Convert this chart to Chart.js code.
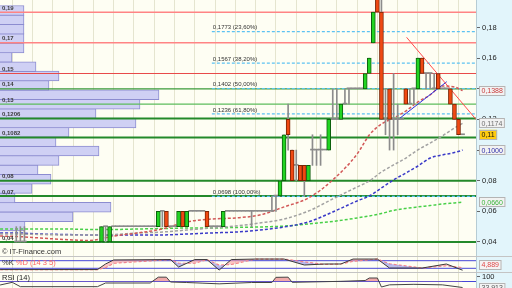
<!DOCTYPE html>
<html>
<head>
<meta charset="utf-8">
<script src="https://cdn.jsdelivr.net/npm/chart.js@4.4.1/dist/chart.umd.min.js"></script>
<style>
  html, body { margin: 0; padding: 0; background: #c4c4c4; }
  #wrap { position: relative; width: 512px; height: 288px; overflow: hidden; }
  canvas { position: absolute; left: 0; }
</style>
</head>
<body>
<div id="wrap">
  <canvas id="main" width="512" height="256" style="top:0"></canvas>
  <canvas id="stoch" width="512" height="15" style="top:257px"></canvas>
  <canvas id="rsi" width="512" height="15" style="top:273px"></canvas>
</div>
<script>
// Daily candles (trading day index, OHLC)
const days = [0, 1, 2,
  21, 22, 23, 24, 25, 26, 27, 28, 29, 30,
  31, 32, 33, 34, 35, 36, 37, 38, 39, 40,
  41, 42, 43, 44, 45, 46, 47, 48, 49, 50,
  51, 52, 53, 54, 55, 56, 57, 58, 59, 60,
  61, 62, 63, 64, 65, 66, 67, 68, 69, 70,
  71, 72, 73, 74, 75, 76, 77, 78, 79, 80,
  81, 82, 83, 84, 85, 86, 87, 88, 89, 90,
  91, 92, 93, 94, 95, 96, 97, 98, 99, 100,
  101, 102, 103, 104, 105, 106, 107, 108, 109, 110];
const opens = [0.04, 0.04, 0.04,
  0.04, 0.05, 0.04, 0.05, 0.05, 0.05, 0.05, 0.05, 0.05, 0.05,
  0.05, 0.05, 0.05, 0.05, 0.05, 0.06, 0.06, 0.05, 0.05, 0.05,
  0.06, 0.05, 0.06, 0.06, 0.06, 0.06, 0.06, 0.05, 0.05, 0.05,
  0.05, 0.06, 0.06, 0.06, 0.06, 0.06, 0.06, 0.06, 0.06, 0.06,
  0.06, 0.06, 0.06, 0.07, 0.07, 0.08, 0.12, 0.10, 0.09, 0.09,
  0.09, 0.08, 0.10, 0.10, 0.10, 0.10, 0.10, 0.12, 0.12, 0.12,
  0.13, 0.14, 0.14, 0.14, 0.14, 0.14, 0.15, 0.17, 0.20, 0.19,
  0.12, 0.14, 0.12, 0.12, 0.12, 0.14, 0.13, 0.14, 0.14, 0.16,
  0.15, 0.15, 0.14, 0.15, 0.14, 0.14, 0.14, 0.13, 0.12, 0.11];
const highs = [0.05, 0.05, 0.05,
  0.05, 0.05, 0.05, 0.05, 0.05, 0.05, 0.05, 0.05, 0.05, 0.05,
  0.05, 0.05, 0.05, 0.05, 0.06, 0.06, 0.06, 0.05, 0.05, 0.06,
  0.06, 0.06, 0.06, 0.06, 0.06, 0.06, 0.06, 0.05, 0.05, 0.05,
  0.06, 0.06, 0.06, 0.06, 0.06, 0.06, 0.06, 0.06, 0.06, 0.06,
  0.06, 0.06, 0.07, 0.07, 0.08, 0.11, 0.13, 0.10, 0.10, 0.09,
  0.09, 0.09, 0.11, 0.10, 0.11, 0.10, 0.12, 0.14, 0.14, 0.13,
  0.14, 0.14, 0.14, 0.14, 0.14, 0.15, 0.16, 0.19, 0.21, 0.20,
  0.14, 0.14, 0.15, 0.13, 0.12, 0.14, 0.14, 0.14, 0.16, 0.16,
  0.15, 0.15, 0.15, 0.15, 0.14, 0.14, 0.14, 0.13, 0.12, 0.11];
const lows = [0.04, 0.04, 0.04,
  0.04, 0.04, 0.04, 0.05, 0.05, 0.05, 0.05, 0.05, 0.05, 0.05,
  0.05, 0.05, 0.05, 0.05, 0.05, 0.05, 0.05, 0.05, 0.05, 0.05,
  0.05, 0.05, 0.06, 0.06, 0.06, 0.06, 0.05, 0.05, 0.05, 0.05,
  0.05, 0.06, 0.06, 0.06, 0.06, 0.06, 0.06, 0.05, 0.06, 0.06,
  0.06, 0.06, 0.06, 0.06, 0.07, 0.08, 0.10, 0.08, 0.08, 0.08,
  0.07, 0.08, 0.09, 0.09, 0.09, 0.10, 0.10, 0.12, 0.12, 0.12,
  0.13, 0.13, 0.14, 0.14, 0.14, 0.14, 0.15, 0.17, 0.19, 0.12,
  0.11, 0.10, 0.10, 0.11, 0.12, 0.13, 0.13, 0.13, 0.14, 0.15,
  0.14, 0.14, 0.14, 0.14, 0.14, 0.14, 0.13, 0.12, 0.11, 0.11];
const closes = [0.04, 0.04, 0.04,
  0.05, 0.05, 0.05, 0.05, 0.05, 0.05, 0.05, 0.05, 0.05, 0.05,
  0.05, 0.05, 0.05, 0.05, 0.06, 0.06, 0.05, 0.05, 0.05, 0.06,
  0.05, 0.06, 0.06, 0.06, 0.06, 0.06, 0.05, 0.05, 0.05, 0.05,
  0.06, 0.06, 0.06, 0.06, 0.06, 0.06, 0.06, 0.06, 0.06, 0.06,
  0.06, 0.06, 0.06, 0.07, 0.08, 0.11, 0.11, 0.08, 0.09, 0.08,
  0.08, 0.09, 0.10, 0.10, 0.10, 0.10, 0.12, 0.12, 0.12, 0.13,
  0.13, 0.14, 0.14, 0.14, 0.14, 0.15, 0.16, 0.19, 0.19, 0.12,
  0.12, 0.12, 0.12, 0.12, 0.12, 0.13, 0.13, 0.14, 0.16, 0.15,
  0.15, 0.15, 0.14, 0.14, 0.14, 0.14, 0.13, 0.12, 0.11, 0.11];

// Moving averages, read at sample days
const maDays  = [-4, 0, 6, 12, 18, 24, 30, 36, 42, 48, 54, 60, 66, 72, 78, 84, 87, 90, 93, 96, 99, 102, 105, 108, 110];
const maRed   = [0.0439, 0.0436, 0.0426, 0.0416, 0.0410, 0.0439, 0.0459, 0.0485, 0.0531, 0.0550, 0.0557, 0.0576, 0.0629, 0.0687, 0.0805, 0.0974, 0.1098, 0.1170, 0.1209, 0.1255, 0.1314, 0.1360, 0.1418, 0.1412, 0.1388];
const maGray  = [0.0452, 0.0452, 0.0449, 0.0446, 0.0446, 0.0449, 0.0459, 0.0465, 0.0478, 0.0491, 0.0504, 0.0524, 0.0550, 0.0602, 0.0681, 0.0759, 0.0798, 0.0857, 0.0903, 0.0948, 0.1001, 0.1046, 0.1092, 0.1144, 0.1174];
const maBlue  = [0.0459, 0.0459, 0.0452, 0.0449, 0.0446, 0.0446, 0.0446, 0.0446, 0.0452, 0.0459, 0.0465, 0.0478, 0.0498, 0.0531, 0.0596, 0.0668, 0.0700, 0.0753, 0.0805, 0.0850, 0.0896, 0.0948, 0.0968, 0.0984, 0.1000];
const maGreen = [0.0485, 0.0485, 0.0485, 0.0485, 0.0482, 0.0482, 0.0485, 0.0488, 0.0491, 0.0491, 0.0495, 0.0498, 0.0504, 0.0518, 0.0534, 0.0557, 0.0570, 0.0586, 0.0606, 0.0619, 0.0629, 0.0638, 0.0648, 0.0655, 0.0660];

// Support / resistance levels
const levels = [0.19, 0.17, 0.15, 0.14, 0.13, 0.1206, 0.1082, 0.08, 0.07, 0.04];
const levelColors = ['#ff8484', '#ff8484', '#e84a4a', '#3a9a3a', '#5cbc5c', '#23892a', '#23892a', '#23892a', '#23892a', '#23892a'];
const levelWidths = [1.5, 1.5, 1.2, 1.2, 1.2, 2, 2, 2, 2, 2];

// Fibonacci retracement
const fibStartDay = 48.2;
const fibLevels = [0.1773, 0.1567, 0.1402, 0.1236, 0.0698];
const fibPcts = [23.6, 38.2, 50, 61.8, 100];

// Trend lines (day, price)
const resistDays = [96.2, 113.3];
const resistPrices = [0.1736, 0.1201];
const supportDays = [94.2, 106.1];
const supportPrices = [0.1201, 0.1446];

// Volume-at-price profile
const profilePrices = [0.0433, 0.0501, 0.0569, 0.0637, 0.0705, 0.0773, 0.0841, 0.0909, 0.0977, 0.1045, 0.1113, 0.1181,
                       0.1249, 0.1317, 0.1385, 0.1453, 0.1521, 0.1589, 0.1657, 0.1725, 0.1793, 0.1861, 0.1929, 0.1997];
const profileVolumes = [25, 73, 111, 15, 32, 51, 38, 59, 99, 56, 69, 136, 96, 140, 159, 49, 59, 36, 12, 24, 24, 24, 24, 24];

const priceTicks = [0.04, 0.06, 0.08, 0.10, 0.12, 0.14, 0.16, 0.18];
const gridDays = [-1, 4, 9, 14, 19, 24, 29, 34, 39, 44, 49, 54, 59, 64, 69, 74, 79, 84, 89, 94, 99, 104, 109];

// Stochastic %K %D (14 3 5)
const stochDays = [-4, 20, 22, 24, 38, 40, 44, 47, 50, 53, 59, 66, 71, 76, 80, 83, 89, 92, 100, 106, 110];
const stochK    = [10, 10, 54, 86, 89, 30, 89, 89, 6, 89, 93, 93, 46, 54, 54, 93, 93, 22, 22, 54, 4.889];
const stochD    = [10, 10, 25, 60, 89, 60, 60, 89, 45, 50, 93, 93, 70, 50, 54, 75, 93, 55, 22, 40, 25];
const stochLevels = [80, 20];

// RSI (14)
const rsiDays = [-4, -1, 1, 20, 22, 33, 35, 37, 38, 42, 46, 50, 54, 58, 63, 64, 67, 68, 74, 80, 86, 87, 89, 90, 92, 98, 105, 110];
const rsiVals = [49, 65, 39, 39, 61, 61, 96, 96, 67, 64, 60, 56, 60, 64, 64, 95, 96, 65, 68, 71, 76, 91, 91, 37, 50, 53, 50, 33.913];
const rsiLevel = 70;

const X_MIN = -4.02, X_MAX = 113.31;
const Y_MIN = 0.03086, Y_MAX = 0.19796;
const MAIN_H = 256;
const FONT = '"Liberation Sans", Arial, sans-serif';
Chart.defaults.font.family = FONT;

const fmt = (v, d) => v.toFixed(d).replace('.', ',');
const pts = (xs, ys) => xs.map((x, i) => ({ x, y: ys[i] }));

// split candles into wick / up / down / flat bars
const wickData = [], upData = [], downData = [], flatData = [];
days.forEach((d, i) => {
  const o = opens[i], h = highs[i], l = lows[i], c = closes[i];
  if (h > l) wickData.push({ x: d, y: [l, h] });
  if (c > o) upData.push({ x: d, y: [o, c] });
  else if (c < o) downData.push({ x: d, y: [c, o] });
  else flatData.push({ x: d, y: [o, o] });
});

// one profile bin in pixels
const binPx = MAIN_H / (Y_MAX - Y_MIN) * (profilePrices[1] - profilePrices[0]);

const panelBg = {
  id: 'panelBg',
  beforeDraw(chart) {
    const { ctx, chartArea: a, width, height } = chart;
    ctx.save();
    ctx.fillStyle = '#e2f5fb';
    ctx.fillRect(0, 0, width, height);
    ctx.fillStyle = '#fefef3';
    ctx.fillRect(a.left, a.top, a.right - a.left, a.bottom - a.top);
    ctx.restore();
  }
};

function valueBox(chart, value, text, fg, bg, clamp) {
  const { ctx, chartArea: a } = chart;
  let y = chart.scales.y.getPixelForValue(value);
  if (clamp) y = Math.min(Math.max(y, a.top + 5), a.bottom - 7);
  ctx.save();
  ctx.font = '7px ' + FONT;
  const w = ctx.measureText(text).width + 5;
  const x = a.right + 3;
  ctx.fillStyle = bg;
  ctx.fillRect(x, y - 5, w, 10);
  ctx.strokeStyle = '#b4b4b4';
  ctx.lineWidth = 1;
  ctx.strokeRect(x + 0.5, Math.round(y - 5) + 0.5, w - 1, 9);
  ctx.fillStyle = fg;
  ctx.textBaseline = 'middle';
  ctx.fillText(text, x + 2.5, y + 0.5);
  ctx.restore();
}

const mainLabels = {
  id: 'mainLabels',
  afterDatasetsDraw(chart) {
    const { ctx, chartArea: a, scales } = chart;
    ctx.save();
    ctx.textBaseline = 'bottom';
    ctx.font = 'bold 6px ' + FONT;
    ctx.fillStyle = '#3c3c3c';
    levels.forEach(v => ctx.fillText(String(v).replace('.', ','), 2, scales.y.getPixelForValue(v) - 1));
    ctx.font = '6px ' + FONT;
    ctx.fillStyle = '#333';
    const fx = scales.x.getPixelForValue(fibStartDay) + 1;
    fibLevels.forEach((v, i) => ctx.fillText(fmt(v, 4) + ' (' + fmt(fibPcts[i], 2) + '%)', fx, scales.y.getPixelForValue(v) - 1));
    ctx.font = '7.5px ' + FONT;
    ctx.fillStyle = '#333';
    ctx.textBaseline = 'middle';
    ctx.fillText('\u00a9 IT-Finance.com', 2, a.bottom - 4);
    ctx.restore();
  },
  afterDraw(chart) {
    const last = a => a[a.length - 1];
    valueBox(chart, last(maRed), fmt(last(maRed), 4), '#c83c3c', '#f2f2f2');
    valueBox(chart, last(maGray), fmt(last(maGray), 4), '#707070', '#f2f2f2');
    valueBox(chart, last(closes), fmt(last(closes), 2), '#111', '#ffcc11');
    valueBox(chart, last(maBlue), fmt(last(maBlue), 4), '#3030a8', '#f2f2f2');
    valueBox(chart, last(maGreen), fmt(last(maGreen), 4), '#3cb43c', '#f2f2f2');
  }
};

const xScale = {
  type: 'linear', min: X_MIN, max: X_MAX, offset: false,
  ticks: { display: false },
  grid: { color: 'rgba(200,200,165,0.45)', drawTicks: false, offset: false },
  border: { display: false },
  afterBuildTicks: s => { s.ticks = gridDays.map(v => ({ value: v })); }
};

function rightAxis(min, max, ticks, fmtTick) {
  return {
    position: 'right', min, max, beginAtZero: false,
    grid: { drawOnChartArea: false, drawTicks: true, tickLength: 4, color: '#666' },
    border: { color: '#b6ccd4' },
    ticks: { display: !!ticks, padding: 2, color: '#222', font: { size: 7.5 }, callback: fmtTick },
    afterBuildTicks: s => { s.ticks = (ticks || []).map(v => ({ value: v })); },
    afterFit: s => { s.width = 36; s.paddingTop = 0; s.paddingBottom = 0; }
  };
}

const line = (data, color, width, dash, order) => ({
  type: 'line', data, borderColor: color, borderWidth: width, borderDash: dash || [],
  pointRadius: 0, fill: false, order, cubicInterpolationMode: 'monotone'
});

const datasets = [
  { type: 'bar', data: upData, backgroundColor: '#22d422', borderColor: '#0d5e0d', borderWidth: 1,
    borderSkipped: false, barThickness: 4, grouped: false, order: 1 },
  { type: 'bar', data: downData, backgroundColor: '#f04812', borderColor: '#7c2404', borderWidth: 1,
    borderSkipped: false, barThickness: 4, grouped: false, order: 1 },
  { type: 'bar', data: flatData, backgroundColor: '#8a8a8a', borderWidth: 0,
    minBarLength: 1, barThickness: 4, grouped: false, order: 2 },
  { type: 'bar', data: wickData, backgroundColor: '#8c8c8c', borderWidth: 0,
    barThickness: 1, grouped: false, order: 3 },
  line(pts(resistDays, resistPrices), '#ff4c4c', 1, null, 4),
  line(pts(supportDays, supportPrices), '#2e2ee0', 1, null, 4),
  line(pts(maDays, maRed), '#d25858', 1.5, [3, 2], 5),
  line(pts(maDays, maGray), '#a2a2a2', 1.5, [3, 2], 5),
  line(pts(maDays, maBlue), '#3a3ac8', 1.5, [3, 2], 5),
  line(pts(maDays, maGreen), '#48d048', 1.5, [3, 2], 5),
  ...fibLevels.map(v => line([{ x: fibStartDay, y: v }, { x: X_MAX, y: v }], '#5cc2f2', 1.2, [3, 2], 6)),
  ...levels.map((v, i) => line([{ x: X_MIN, y: v }, { x: X_MAX, y: v }], levelColors[i], levelWidths[i], null, 7)),
  { type: 'bar', indexAxis: 'y', xAxisID: 'xv', yAxisID: 'yv',
    data: profilePrices.map((p, i) => ({ x: profileVolumes[i], y: p })),
    backgroundColor: '#cfd0f4', borderColor: '#8c8cd0', borderWidth: 1, borderSkipped: 'start',
    barThickness: binPx - 0.6, grouped: false, order: 10 }
];

const common = {
  responsive: false, animation: false, events: [],
  layout: { padding: 0 },
  plugins: { legend: { display: false }, tooltip: { enabled: false } }
};

new Chart(document.getElementById('main'), {
  type: 'bar',
  data: { datasets },
  options: {
    ...common,
    scales: {
      x: xScale,
      y: rightAxis(Y_MIN, Y_MAX, priceTicks, v => fmt(v, 2)),
      xv: { type: 'linear', axis: 'x', display: false, min: 0, max: 476, offset: false },
      yv: { type: 'linear', axis: 'y', display: false, min: Y_MIN, max: Y_MAX, beginAtZero: false }
    }
  },
  plugins: [panelBg, mainLabels]
});

// Stochastic panel
new Chart(document.getElementById('stoch'), {
  type: 'line',
  data: {
    datasets: [
      { data: pts(stochDays, stochK), borderColor: '#3a3a3a', borderWidth: 1, pointRadius: 0,
        fill: { target: 1, above: 'rgba(250,160,160,0.6)', below: 'rgba(150,150,232,0.65)' }, order: 1 },
      { data: pts(stochDays, stochD), borderColor: '#ff7a7a', borderWidth: 1.2, borderDash: [3, 2],
        pointRadius: 0, fill: false, order: 2 },
      ...stochLevels.map(v => ({ data: [{ x: X_MIN, y: v }, { x: X_MAX, y: v }], borderColor: '#4646d8',
        borderWidth: 1, pointRadius: 0, fill: false, order: 3 }))
    ]
  },
  options: {
    ...common,
    scales: { x: xScale, y: rightAxis(-9.2, 109.2, null) }
  },
  plugins: [panelBg, {
    id: 'stochLabels',
    afterDraw(chart) {
      const { ctx } = chart;
      ctx.save();
      ctx.font = '7.5px ' + FONT;
      ctx.textBaseline = 'middle';
      ctx.fillStyle = '#333';
      ctx.fillText('%K', 2, 6);
      ctx.fillStyle = '#ff6464';
      ctx.fillText('%D (14 3 5)', 2 + ctx.measureText('%K ').width, 6);
      ctx.restore();
      valueBox(chart, stochK[stochK.length - 1], fmt(stochK[stochK.length - 1], 3), '#e04848', '#f4f4f4', true);
    }
  }]
});

// RSI panel
new Chart(document.getElementById('rsi'), {
  type: 'line',
  data: {
    datasets: [
      { data: pts(rsiDays, rsiVals), borderColor: '#444', borderWidth: 1, pointRadius: 0,
        fill: { target: { value: rsiLevel }, above: 'rgba(238,150,150,0.8)', below: 'rgba(0,0,0,0)' }, order: 1 },
      { data: [{ x: X_MIN, y: rsiLevel }, { x: X_MAX, y: rsiLevel }], borderColor: '#4646d8',
        borderWidth: 1, pointRadius: 0, fill: false, order: 2 }
    ]
  },
  options: {
    ...common,
    scales: { x: xScale, y: rightAxis(31, 121, [100], v => String(v)) }
  },
  plugins: [panelBg, {
    id: 'rsiLabels',
    afterDraw(chart) {
      const { ctx } = chart;
      ctx.save();
      ctx.font = '7.5px ' + FONT;
      ctx.textBaseline = 'middle';
      ctx.fillStyle = '#222';
      ctx.fillText('RSI (14)', 2, 5);
      ctx.restore();
      valueBox(chart, rsiVals[rsiVals.length - 1], fmt(rsiVals[rsiVals.length - 1], 3), '#555', '#f4f4f4');
    }
  }]
});
</script>
</body>
</html>
